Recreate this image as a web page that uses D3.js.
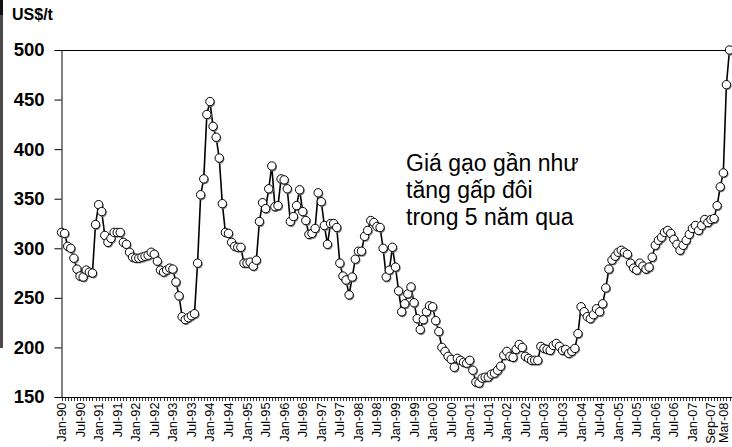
<!DOCTYPE html>
<html>
<head>
<meta charset="utf-8">
<script src="https://cdn.jsdelivr.net/npm/d3@7"></script>
<style>
  body { margin: 0; background: #fff; }
  svg { display: block; font-family: Arial, "Liberation Sans", sans-serif; }
</style>
</head>
<body>
<div id="chart"></div>
<script>
// monthly rice price, Jan-90 .. Mar-08 (US$/t)
var prices = [
  316, 315, 302, 300, 290, 279, 272, 271, 278, 276, 275,
  324, 344, 337, 313, 306, 310, 316, 316, 316, 306, 304, 296,
  291, 290, 290, 291, 292, 293, 296, 294,
  287, 278, 276, 278, 280, 279, 266, 252, 231, 228, 230, 232, 234, 285, 354, 370,
  435, 448, 423, 412, 391, 345, 316, 315, 306, 302, 301, 301, 285, 285, 286, 282, 288,
  327, 346, 340, 360, 383, 342, 343, 370, 369, 360, 327, 332, 343, 359, 337, 328, 314, 315, 320,
  356, 347, 323, 304, 325, 325, 321, 285, 272, 268, 253, 271, 289, 297, 297, 312, 318, 328, 326, 322, 321,
  300, 271, 278, 301, 281, 257, 236, 244, 254, 261, 245, 229, 218, 228, 236, 242, 241, 227, 216,
  200, 196, 191, 188, 180, 189, 187, 185, 184, 187, 177, 165, 164, 169, 170, 170, 173, 174, 177, 181,
  192, 196, 191, 190, 198, 203, 200, 191, 189, 187, 187, 187, 201, 199, 198, 197, 202, 204, 201, 197, 198, 194, 196, 199, 214,
  241, 236, 231, 229, 233, 239, 236, 244, 260,
  279, 288, 292, 296, 298, 296, 294,
  285, 280, 278, 285, 282, 279, 281,
  291, 303, 308, 311, 316, 318, 315, 309, 304, 298, 303, 308, 314, 320, 323, 318, 323, 329, 326, 329, 330,
  343, 362, 376, 465, 500
];

// category labels, one every 6th point
var tickLabels = [
  "Jan-90", "Jul-90", "Jan-91", "Jul-91", "Jan-92", "Jul-92", "Jan-93", "Jul-93",
  "Jan-94", "Jul-94", "Jan-95", "Jul-95", "Jan-96", "Jul-96", "Jan-97", "Jul-97",
  "Jan-98", "Jul-98", "Jan-99", "Jul-99", "Jan-00", "Jul-00", "Jan-01", "Jul-01",
  "Jan-02", "Jul-02", "Jan-03", "Jul-03", "Jan-04", "Jul-04", "Jan-05", "Jul-05",
  "Jan-06", "Jul-06", "Jan-07", "Sep-07", "Mar-08"
];
var labelStep = 6;

var yTicks = [150, 200, 250, 300, 350, 400, 450, 500];
var unitLabel = "US$/t";
var note = ["Giá gạo gần như", "tăng gấp đôi", "trong 5 năm qua"];

var width = 732, height = 447;
var margin = {top: 50, left: 61, bottom: 50};
var plotBottom = height - margin.bottom;

var svg = d3.select("#chart").append("svg")
    .attr("width", width)
    .attr("height", height);

var x = d3.scaleLinear()
    .domain([0, prices.length - 1])
    .range([61.5, 729.5]);

var y = d3.scaleLinear()
    .domain([150, 500])
    .range([plotBottom, margin.top]);

// dark strip on the left edge of the scan
svg.append("rect").attr("x", 0).attr("y", 0).attr("width", 3).attr("height", 348).attr("fill", "#4a4a4a");
svg.append("rect").attr("x", 0).attr("y", 0).attr("width", 3).attr("height", 15).attr("fill", "#111");

// top border of plot area
svg.append("line")
    .attr("x1", margin.left).attr("x2", width)
    .attr("y1", y(500) + 0.5).attr("y2", y(500) + 0.5)
    .attr("stroke", "#000").attr("stroke-width", 1);

// y axis
var yAxis = d3.axisLeft(y)
    .tickValues(yTicks)
    .tickSize(7)
    .tickPadding(10)
    .tickFormat(d3.format("d"));

var gY = svg.append("g")
    .attr("transform", "translate(" + (margin.left + 0.5) + ",0)")
    .call(yAxis);
gY.select(".domain").attr("stroke", "#000");
gY.selectAll(".tick line").attr("stroke", "#000");
gY.selectAll("text")
    .attr("font-family", "Arial, 'Liberation Sans', sans-serif")
    .attr("font-size", 18.5)
    .attr("font-weight", "bold")
    .attr("fill", "#000");

svg.append("text")
    .attr("x", 12)
    .attr("y", 20)
    .attr("font-size", 16)
    .attr("font-weight", "bold")
    .text(unitLabel);

// x axis: one small tick per month, a label every 6th
var gX = svg.append("g")
    .attr("transform", "translate(0," + (plotBottom + 0.5) + ")");

gX.append("line")
    .attr("x1", margin.left).attr("x2", width)
    .attr("y1", 0).attr("y2", 0)
    .attr("stroke", "#000");

gX.selectAll(".minor")
    .data(d3.range(prices.length))
    .enter().append("line")
    .attr("class", "minor")
    .attr("x1", function (d) { return Math.round(x(d)) + 0.5; })
    .attr("x2", function (d) { return Math.round(x(d)) + 0.5; })
    .attr("y1", 0).attr("y2", 3.5)
    .attr("stroke", "#000")
    .attr("stroke-width", 0.8);

gX.selectAll(".lbl")
    .data(tickLabels)
    .enter().append("text")
    .attr("class", "lbl")
    .attr("transform", function (d, i) {
        return "translate(" + Math.min(x(i * labelStep), width - 8) + ",5) rotate(-90)";
    })
    .attr("dy", "0.35em")
    .attr("text-anchor", "end")
    .attr("font-size", 12.8)
    .text(function (d) { return d; });

// price line
var line = d3.line()
    .x(function (d, i) { return x(i); })
    .y(function (d) { return y(d); });

svg.append("path")
    .datum(prices)
    .attr("fill", "none")
    .attr("stroke", "#000")
    .attr("stroke-width", 1.6)
    .attr("d", line);

// markers with a small shadow
var dots = svg.append("g").attr("class", "dots");

dots.selectAll(".shadow")
    .data(prices)
    .enter().append("circle")
    .attr("class", "shadow")
    .attr("cx", function (d, i) { return x(i) + 1; })
    .attr("cy", function (d) { return y(d) + 1.2; })
    .attr("r", 4.2)
    .attr("fill", "#777");

dots.selectAll(".dot")
    .data(prices)
    .enter().append("circle")
    .attr("class", "dot")
    .attr("cx", function (d, i) { return x(i); })
    .attr("cy", function (d) { return y(d); })
    .attr("r", 4.2)
    .attr("fill", "#fff")
    .attr("stroke", "#000")
    .attr("stroke-width", 1);

// annotation
svg.append("g")
    .selectAll("text")
    .data(note)
    .enter().append("text")
    .attr("x", 406)
    .attr("y", function (d, i) { return 171 + i * 27; })
    .attr("font-size", 23)
    .attr("fill", "#000")
    .text(function (d) { return d; });
</script>
</body>
</html>
